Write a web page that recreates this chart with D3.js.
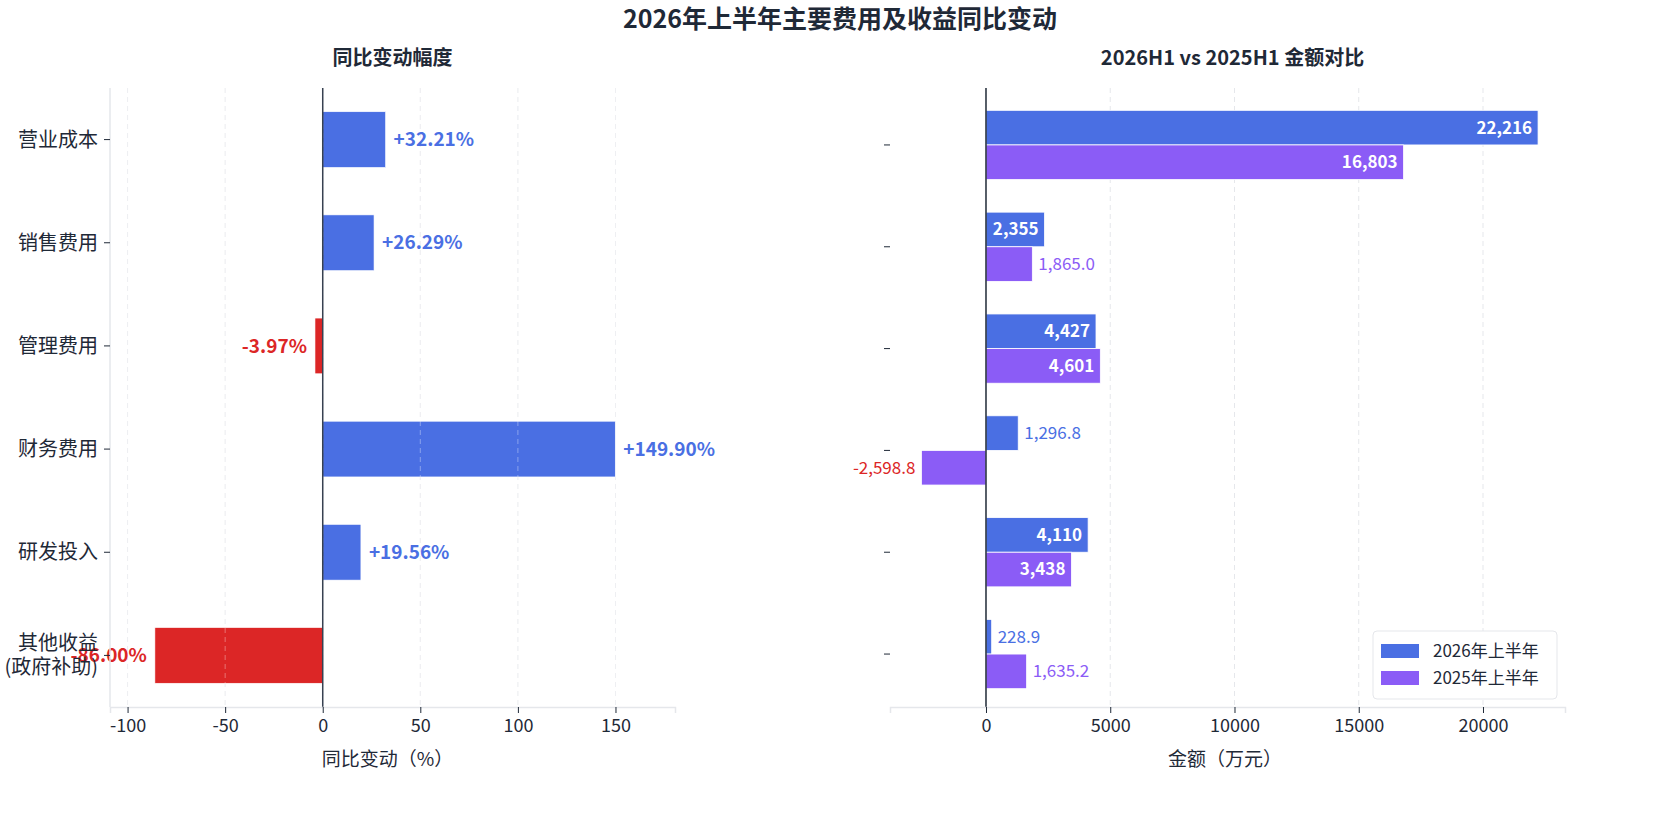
<!DOCTYPE html>
<html><head><meta charset="utf-8">
<script src="https://cdn.jsdelivr.net/npm/d3@7"></script>
<style>body{margin:0;background:#fff;font-family:"Noto Sans CJK SC","Noto Sans",sans-serif}</style>
</head><body><svg id="c" width="1680" height="827"></svg>
<script>
var categories = ["营业成本", "销售费用", "管理费用", "财务费用", "研发投入", "其他收益\n(政府补助)"];
var yoyChange = [32.21, 26.29, -3.97, 149.90, 19.56, -86.00];
var amount2026 = [22216, 2355, 4427, 1296.8, 4110, 228.9];
var amount2025 = [16803, 1865.0, 4601, -2598.8, 3438, 1635.2];
var seriesNames = ["2026年上半年", "2025年上半年"];
var leftTicks = [-100, -50, 0, 50, 100, 150];
var rightTicks = [0, 5000, 10000, 15000, 20000];

var BLUE = "#4a6fe3", PURPLE = "#8b5cf6", RED = "#dc2626", DARK = "#1f2937";
var fmt = d3.formatLocale({decimal: ".", thousands: ",", grouping: [3], currency: ["", ""], minus: "-"});
var svg = d3.select("#c");

svg.append("text").attr("x", 840).attr("y", 28).attr("text-anchor", "middle")
  .attr("font-size", 25).attr("font-weight", "bold").attr("fill", DARK)
  .text("2026年上半年主要费用及收益同比变动");

// ---------- left panel
var L = {left: 110, right: 675, top: 88, bottom: 707};
var x1 = d3.scaleLinear().domain([-109, 180.5]).range([L.left, L.right]);
var y1 = d3.scaleBand().domain(d3.range(categories.length)).range([L.top, L.bottom]).paddingInner(0.46).paddingOuter(0.23);
var g1 = svg.append("g");

g1.append("text").attr("x", (L.left + L.right) / 2).attr("y", 65).attr("text-anchor", "middle")
  .attr("font-size", 20).attr("font-weight", "bold").attr("fill", DARK).text("同比变动幅度");

g1.selectAll(".grid").data(leftTicks).enter().append("line")
  .attr("x1", d => x1(d)).attr("x2", d => x1(d)).attr("y1", L.top).attr("y2", L.bottom)
  .attr("stroke", "#e5e7eb").attr("stroke-dasharray", "5,4").attr("stroke-width", 1);

g1.selectAll(".bar").data(yoyChange).enter().append("rect")
  .attr("x", d => x1(Math.min(0, d))).attr("width", d => Math.abs(x1(d) - x1(0)))
  .attr("y", (d, i) => y1(i)).attr("height", y1.bandwidth())
  .attr("fill", d => d >= 0 ? BLUE : RED).attr("stroke", "#fff").attr("stroke-width", 0.6);

g1.selectAll(".grid2").data(leftTicks).enter().append("line")
  .attr("x1", d => x1(d)).attr("x2", d => x1(d)).attr("y1", L.top).attr("y2", L.bottom)
  .attr("stroke", "#ffffff").attr("stroke-opacity", 0.35).attr("stroke-dasharray", "5,4");

g1.append("line").attr("x1", x1(0)).attr("x2", x1(0)).attr("y1", L.top).attr("y2", L.bottom)
  .attr("stroke", "#374151").attr("stroke-width", 1.5);

g1.selectAll(".lbl").data(yoyChange).enter().append("text")
  .attr("x", d => d >= 0 ? x1(d) + 8 : x1(d) - 8)
  .attr("y", (d, i) => y1(i) + y1.bandwidth() / 2).attr("dy", "0.35em")
  .attr("text-anchor", d => d >= 0 ? "start" : "end")
  .attr("font-size", 19).attr("font-weight", "bold").attr("fill", d => d >= 0 ? BLUE : RED)
  .text(d => (d >= 0 ? "+" : "") + d.toFixed(2) + "%");

var ax1 = g1.append("g").attr("transform", `translate(0,${L.bottom})`)
  .call(d3.axisBottom(x1).tickValues(leftTicks).tickSize(6).tickPadding(6).tickFormat(d => d));
ax1.select(".domain").attr("stroke", "#e5e7eb").attr("stroke-width", 1.5);
ax1.selectAll("line").attr("stroke", DARK);
ax1.selectAll("text").attr("font-size", 18).attr("fill", DARK).attr("font-family", "Noto Sans CJK SC");
g1.append("line").attr("x1", L.left).attr("x2", L.left).attr("y1", L.top).attr("y2", L.bottom)
  .attr("stroke", "#e5e7eb").attr("stroke-width", 1.5);

categories.forEach(function (c, i) {
  var cy = y1(i) + y1.bandwidth() / 2;
  g1.append("line").attr("x1", L.left - 6).attr("x2", L.left).attr("y1", cy).attr("y2", cy).attr("stroke", DARK);
  var lines = c.split("\n");
  var t = g1.append("text").attr("x", L.left - 12).attr("y", cy).attr("text-anchor", "end")
    .attr("font-size", 20).attr("fill", DARK);
  lines.forEach(function (s, k) {
    t.append("tspan").attr("x", L.left - 12)
      .attr("dy", k === 0 ? (0.35 - (lines.length - 1) * 0.6) + "em" : "1.2em").text(s);
  });
});
g1.append("text").attr("x", (L.left + L.right) / 2 - 5).attr("y", 766).attr("text-anchor", "middle")
  .attr("font-size", 19).attr("fill", DARK).text("同比变动（%）");

// ---------- right panel
var R = {left: 890, right: 1565, top: 88, bottom: 707};
var x2 = d3.scaleLinear().domain([-3863, 23300]).range([R.left, R.right]);
var y2 = d3.scaleBand().domain(d3.range(categories.length)).range([R.top + 4, R.bottom]).paddingInner(0.32).paddingOuter(0.18);
var g2 = svg.append("g");

g2.append("text").attr("x", (R.left + R.right) / 2 + 5).attr("y", 65).attr("text-anchor", "middle")
  .attr("font-size", 20).attr("font-weight", "bold").attr("fill", DARK).text("2026H1 vs 2025H1 金额对比");

g2.selectAll(".grid").data(rightTicks.slice(1)).enter().append("line")
  .attr("x1", d => x2(d)).attr("x2", d => x2(d)).attr("y1", R.top).attr("y2", R.bottom)
  .attr("stroke", "#e5e7eb").attr("stroke-dasharray", "5,4");

var half = y2.bandwidth() / 2;
[amount2026, amount2025].forEach(function (arr, s) {
  var col = s === 0 ? BLUE : PURPLE;
  g2.selectAll(".b" + s).data(arr).enter().append("rect")
    .attr("x", d => x2(Math.min(0, d))).attr("width", d => Math.abs(x2(d) - x2(0)))
    .attr("y", (d, i) => y2(i) + s * half).attr("height", half)
    .attr("fill", col).attr("stroke", "#fff").attr("stroke-width", 0.8);
  g2.selectAll(".t" + s).data(arr).enter().append("text")
    .attr("y", (d, i) => y2(i) + s * half + half / 2).attr("dy", "0.35em")
    .each(function (d) {
      var t = d3.select(this);
      if (d >= 2000) {
        t.attr("x", x2(d) - 6).attr("text-anchor", "end").attr("fill", "#fff")
          .attr("font-weight", "bold").text(fmt.format(",.0f")(d));
      } else if (d >= 0) {
        t.attr("x", x2(d) + 6).attr("text-anchor", "start").attr("fill", col).text(fmt.format(",.1f")(d));
      } else {
        t.attr("x", x2(d) - 6).attr("text-anchor", "end").attr("fill", RED).text(fmt.format(",.1f")(d));
      }
    }).attr("font-size", 17);
});

g2.append("line").attr("x1", x2(0)).attr("x2", x2(0)).attr("y1", R.top).attr("y2", R.bottom)
  .attr("stroke", DARK).attr("stroke-width", 1.5);

var ax2 = g2.append("g").attr("transform", `translate(0,${R.bottom})`)
  .call(d3.axisBottom(x2).tickValues(rightTicks).tickSize(6).tickPadding(6).tickFormat(d => d));
ax2.select(".domain").attr("stroke", "#e5e7eb").attr("stroke-width", 1.5);
ax2.selectAll("line").attr("stroke", DARK);
ax2.selectAll("text").attr("font-size", 18).attr("fill", DARK).attr("font-family", "Noto Sans CJK SC");

categories.forEach(function (c, i) {
  var cy = y2(i) + half;
  g2.append("line").attr("x1", R.left - 6).attr("x2", R.left).attr("y1", cy).attr("y2", cy).attr("stroke", DARK);
});
g2.append("text").attr("x", 1225).attr("y", 766).attr("text-anchor", "middle")
  .attr("font-size", 19).attr("fill", DARK).text("金额（万元）");

var lg = g2.append("g").attr("transform", "translate(1373,631)");
lg.append("rect").attr("width", 184).attr("height", 68).attr("rx", 4)
  .attr("fill", "#fff").attr("stroke", "#e5e7eb");
seriesNames.forEach(function (n, k) {
  lg.append("rect").attr("x", 8).attr("y", 13 + k * 27).attr("width", 38).attr("height", 14)
    .attr("fill", k === 0 ? BLUE : PURPLE);
  lg.append("text").attr("x", 60).attr("y", 20 + k * 27).attr("dy", "0.35em")
    .attr("font-size", 17).attr("fill", DARK).text(n);
});
</script></body></html>
